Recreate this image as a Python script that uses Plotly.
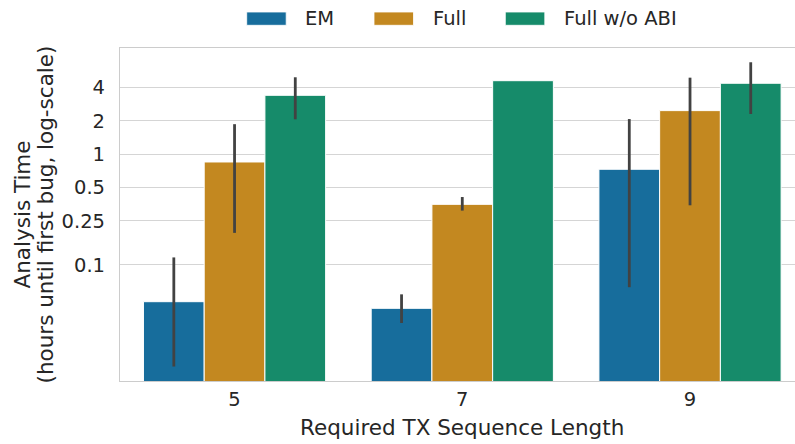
import plotly.graph_objects as go

categories = ["5", "7", "9"]
series_names = ["EM", "Full", "Full w/o ABI"]
colors = ["#176d9c", "#c38820", "#168b6a"]

em_vals = [0.0466, 0.0406, 0.732]
em_hi = [0.117, 0.0543, 2.08]
em_lo = [0.0121, 0.0299, 0.063]

full_vals = [0.852, 0.353, 2.48]
full_hi = [1.87, 0.411, 4.92]
full_lo = [0.195, 0.310, 0.346]

noabi_vals = [3.41, 4.62, 4.38]
noabi_hi = [4.96, 4.62, 6.78]
noabi_lo = [2.07, 4.62, 2.31]

ytick_vals = [0.1, 0.25, 0.5, 1, 2, 4]
ytick_text = ["0.1", "0.25", "0.5", "1", "2", "4"]

x_title = "Required TX Sequence Length"
y_title_lines = ["Analysis Time", "(hours until first bug, log-scale)"]

series = [
    (em_vals, em_hi, em_lo),
    (full_vals, full_hi, full_lo),
    (noabi_vals, noabi_hi, noabi_lo),
]

FONT = "DejaVu Sans"
TXT = "#262626"
TICK_SIZE = 19.5
TITLE_SIZE = 21.5

W, H = 795, 444
L, R, T, B = 120, 0, 48, 63
W_plot = W - L - R
H_plot = H - T - B


def px_to_paper(px, py):
    return (px - L) / W_plot, (H - B - py) / H_plot


fig = go.Figure()
for name, color, (v, hi, lo) in zip(series_names, colors, series):
    fig.add_trace(go.Bar(
        x=categories, y=v, name=name,
        marker=dict(color=color, line=dict(color="white", width=1)),
        error_y=dict(
            type="data", symmetric=False,
            array=[h - a for h, a in zip(hi, v)],
            arrayminus=[a - l for a, l in zip(v, lo)],
            color="#424242", thickness=2.8, width=0,
        ),
        showlegend=False,
    ))

fig.update_layout(
    width=W, height=H,
    margin=dict(l=L, r=R, t=T, b=B),
    paper_bgcolor="white", plot_bgcolor="white",
    barmode="group", bargap=0.2, bargroupgap=0,
    font=dict(family=FONT, size=TICK_SIZE, color=TXT),
    xaxis=dict(
        type="category", range=[-0.503, 2.461],
        showline=True, linecolor="#cccccc", linewidth=1.2, mirror=True,
        showgrid=False, ticks="", ticklabelstandoff=0,
        tickfont=dict(size=TICK_SIZE, color=TXT),
    ),
    yaxis=dict(
        type="log", range=[-2.048, 0.960],
        tickvals=ytick_vals, ticktext=ytick_text,
        showline=True, linecolor="#cccccc", linewidth=1.2,
        showgrid=True, gridcolor="#d5d5d5", gridwidth=1.2,
        ticks="", ticklabelstandoff=10,
        tickfont=dict(size=TICK_SIZE, color=TXT),
        zeroline=False,
    ),
)

# axis titles
tx, ty = px_to_paper(462, 427)
fig.add_annotation(xref="paper", yref="paper", x=tx, y=ty, text=x_title,
                   showarrow=False, xanchor="center", yanchor="middle",
                   font=dict(family=FONT, size=TITLE_SIZE, color=TXT))
for line, cx in zip(y_title_lines, [22, 45]):
    ax, ay = px_to_paper(cx, 214.5)
    fig.add_annotation(xref="paper", yref="paper", x=ax, y=ay, text=line,
                       showarrow=False, xanchor="center", yanchor="middle",
                       textangle=-90,
                       font=dict(family=FONT, size=TITLE_SIZE, color=TXT))

# custom legend (wide patches like matplotlib)
leg_x0 = [246.7, 374.0, 505.3]
for i, (name, color) in enumerate(zip(series_names, colors)):
    xa, ya = px_to_paper(leg_x0[i], 12.0)
    xb, yb = px_to_paper(leg_x0[i] + 39.5, 25.3)
    fig.add_shape(type="rect", xref="paper", yref="paper",
                  x0=xa, x1=xb, y0=yb, y1=ya,
                  fillcolor=color, line=dict(color="white", width=0.8))
    lx, ly = px_to_paper(leg_x0[i] + 56.5, 18.7)
    fig.add_annotation(xref="paper", yref="paper", x=lx, y=ly, text=name,
                       showarrow=False, xanchor="left", yanchor="middle",
                       font=dict(family=FONT, size=TICK_SIZE, color=TXT))

fig.write_html("out.html")
